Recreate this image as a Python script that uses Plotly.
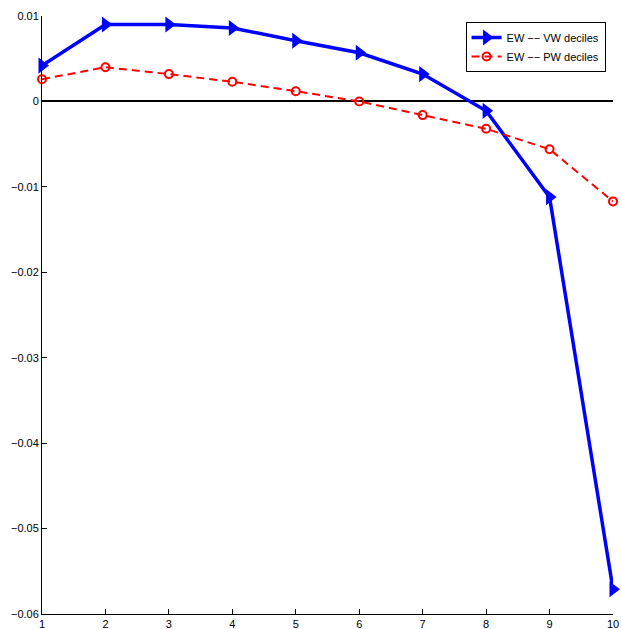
import plotly.graph_objects as go

# Decile portfolios 1..10
deciles = [1, 2, 3, 4, 5, 6, 7, 8, 9, 10]

# Equal-weighted minus value-weighted decile spread
ew_vw = [0.0042, 0.0090, 0.0090, 0.0086, 0.0071, 0.0057, 0.0032, -0.0011, -0.0112, -0.0571]
# Equal-weighted minus price-weighted decile spread
ew_pw = [0.0026, 0.0040, 0.0032, 0.0023, 0.0012, 0.0000, -0.0016, -0.0032, -0.0056, -0.0117]

x_ticks = [1, 2, 3, 4, 5, 6, 7, 8, 9, 10]
y_ticks = [0.01, 0, -0.01, -0.02, -0.03, -0.04, -0.05, -0.06]
y_tick_text = ["0.01", "0", "\u22120.01", "\u22120.02", "\u22120.03", "\u22120.04", "\u22120.05", "\u22120.06"]

fig = go.Figure()

fig.add_trace(go.Scatter(
    x=deciles, y=ew_vw, mode="lines+markers",
    name="EW \u2212\u2212 VW deciles",
    line=dict(color="#0000ff", width=3.5),
    marker=dict(symbol="triangle-right", size=14, color="#0000ff"),
    cliponaxis=False,
))

fig.add_trace(go.Scatter(
    x=deciles, y=ew_pw, mode="lines+markers",
    name="EW \u2212\u2212 PW deciles",
    line=dict(color="#ff0000", width=2, dash="8px,5px"),
    marker=dict(symbol="circle-open", size=8, color="#ff0000", line=dict(width=2, color="#ff0000")),
    cliponaxis=False,
))

fig.update_layout(
    width=622, height=629,
    margin=dict(l=42, r=9, t=16, b=15),
    paper_bgcolor="white", plot_bgcolor="white",
    font=dict(family="Liberation Sans, Arial, sans-serif", size=11, color="black"),
    showlegend=True,
    legend=dict(
        x=0.987, y=0.99, xanchor="right", yanchor="top",
        bgcolor="white", bordercolor="black", borderwidth=1,
        font=dict(size=11), tracegroupgap=0, itemwidth=30,
    ),
    xaxis=dict(
        range=[1, 10], tickvals=x_ticks, automargin=False,
        showline=True, linecolor="black", linewidth=1, mirror=False,
        ticks="inside", ticklen=5, tickcolor="black", tickwidth=1,
        showgrid=False, zeroline=False,
    ),
    yaxis=dict(
        range=[-0.06, 0.01], tickvals=y_ticks, ticktext=y_tick_text, automargin=False,
        showline=True, linecolor="black", linewidth=1, mirror=False,
        ticks="inside", ticklen=5, tickcolor="black", tickwidth=1,
        showgrid=False, zeroline=True, zerolinecolor="black", zerolinewidth=2,
    ),
)

fig.write_html("out.html")
